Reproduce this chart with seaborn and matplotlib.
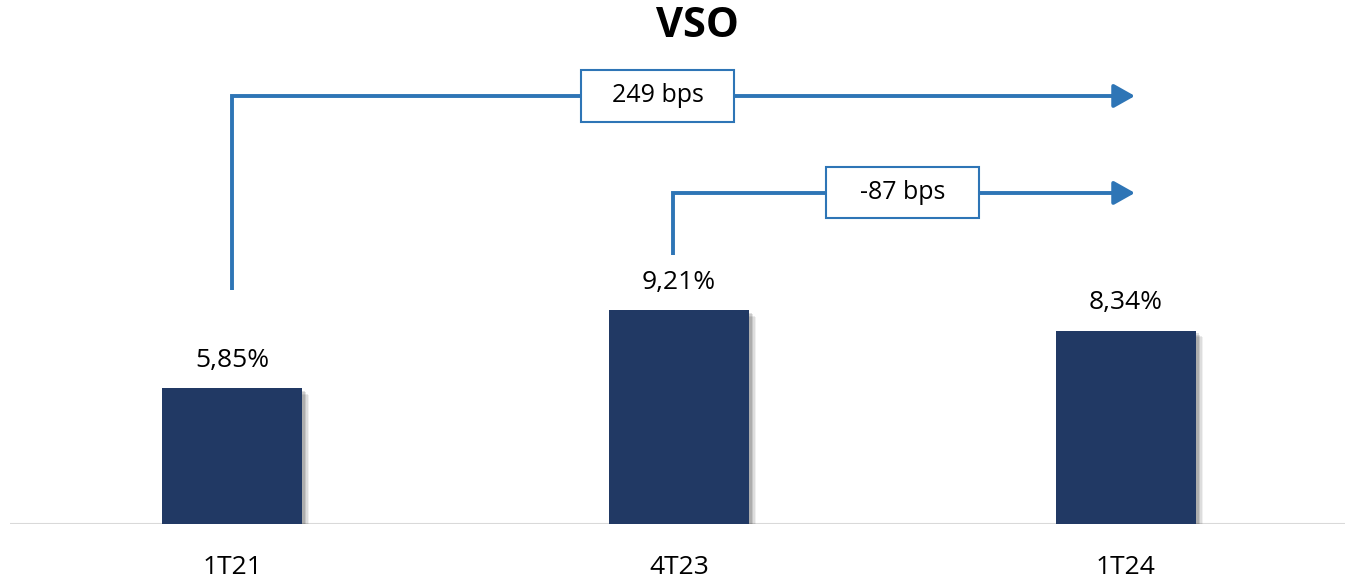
import matplotlib
matplotlib.use("Agg")
import matplotlib.pyplot as plt
import matplotlib.patheffects as pe
from matplotlib.patches import Rectangle
import seaborn as sns
import pandas as pd

# Data
categories = ["1T21", "4T23", "1T24"]
values = [5.85, 9.21, 8.34]
value_labels = ["5,85%", "9,21%", "8,34%"]
change_labels = ["249 bps", "-87 bps"]

BAR_COLOR = "#213964"
ARROW_COLOR = "#2E75B6"
FONT = ["Open Sans", "DejaVu Sans"]

sns.set_theme(style="white")
plt.rcParams["font.family"] = FONT

W, H, DPI = 1355, 583, 100
fig = plt.figure(figsize=(W / DPI, H / DPI), dpi=DPI)
ax = fig.add_axes([10 / W, 59 / H, 1335 / W, 524 / H])

df = pd.DataFrame({"cat": categories, "val": values})
sns.barplot(data=df, x="cat", y="val", color=BAR_COLOR, width=0.313,
            saturation=1, ax=ax, zorder=3)

# soft drop shadow on each bar
shadow = [pe.SimplePatchShadow(offset=(o, -o), shadow_rgbFace="#000000", alpha=a)
          for o, a in ((5, 0.06), (4, 0.08), (3, 0.1), (2, 0.12))]
for bar in ax.patches:
    bar.set_path_effects(shadow + [pe.Normal()])
    bar.set_edgecolor("none")

ax.set_xlim(-222 / 447, (1345 - 232) / 447)
ax.set_ylim(0, 524 / 23.2)
for s in ax.spines.values():
    s.set_visible(False)
ax.axhline(0, color="#D9D9D9", lw=1.5, zorder=2)
ax.set_xlabel("")
ax.set_ylabel("")
ax.set_yticks([])
ax.set_xticks(range(len(categories)))
ax.set_xticklabels(categories, fontsize=19, color="#000000")
ax.tick_params(axis="x", length=0, pad=22)

# value labels over bars
for i, (v, lab) in enumerate(zip(values, value_labels)):
    ax.annotate(lab, xy=(i, v), xytext=(0, 11), textcoords="offset points",
                ha="center", va="bottom", fontsize=19, color="#000000")

fig.text(697 / W, 1 - 6 / H, "VSO", ha="center", va="top",
         fontsize=30, fontweight="bold", color="#000000")

# change connectors: (start x, start y, level y, tip x, box centre x, box height)
connectors = [
    (0.0, 10.1, 18.45, 2.02, 0.953, 2.28, change_labels[0]),
    (0.987, 11.6, 14.27, 2.02, 1.501, 2.2, change_labels[1]),
]
box_w = 153 / 447
for x0, y0, ylev, xtip, bx, bh, lab in connectors:
    ax.plot([x0, x0, xtip - 0.03], [y0, ylev, ylev], color=ARROW_COLOR,
            lw=2.8, solid_joinstyle="miter", solid_capstyle="butt", zorder=4)
    ax.annotate("", xy=(xtip, ylev), xytext=(xtip - 0.04, ylev),
                arrowprops=dict(arrowstyle="-|>,head_length=0.8,head_width=0.45",
                                color=ARROW_COLOR, lw=2.8, mutation_scale=16,
                                shrinkA=0, shrinkB=0), zorder=5)
    ax.add_patch(Rectangle((bx - box_w / 2, ylev - bh / 2), box_w, bh,
                           facecolor="white", edgecolor=ARROW_COLOR, lw=1.5,
                           zorder=6))
    ax.text(bx, ylev, lab, ha="center", va="center", fontsize=18,
            color="#000000", zorder=7)

fig.savefig("out.png", dpi=DPI)
